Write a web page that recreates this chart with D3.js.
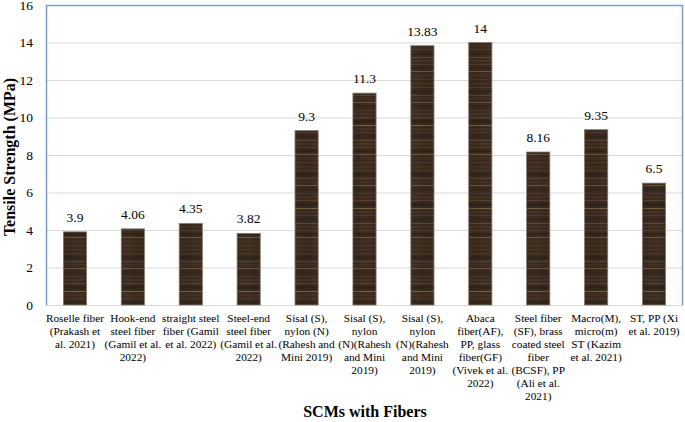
<!DOCTYPE html>
<html>
<head>
<meta charset="utf-8">
<script src="https://cdn.jsdelivr.net/npm/d3@7"></script>
<style>
  html, body { margin: 0; padding: 0; background: #fff; }
  svg { display: block; }
  text { font-family: "Liberation Serif", "Times New Roman", serif; fill: #000; }
</style>
</head>
<body>
<svg id="chart" width="685" height="422"></svg>
<script>
// ---- data ----
const categories = [
  ["Roselle fiber", "(Prakash et", "al. 2021)"],
  ["Hook-end", "steel fiber", "(Gamil et al.", "2022)"],
  ["straight steel", "fiber (Gamil", "et al. 2022)"],
  ["Steel-end", "steel fiber", "(Gamil et al.", "2022)"],
  ["Sisal (S),", "nylon (N)", "(Rahesh and", "Mini 2019)"],
  ["Sisal (S),", "nylon", "(N)(Rahesh", "and Mini", "2019)"],
  ["Sisal (S),", "nylon", "(N)(Rahesh", "and Mini", "2019)"],
  ["Abaca", "fiber(AF),", "PP, glass", "fiber(GF)", "(Vivek et al.", "2022)"],
  ["Steel fiber", "(SF), brass", "coated steel", "fiber", "(BCSF), PP", "(Ali et al.", "2021)"],
  ["Macro(M),", "micro(m)", "ST (Kazim", "et al. 2021)"],
  ["ST, PP (Xi", "et al. 2019)"]
];
const values = [3.9, 4.06, 4.35, 3.82, 9.3, 11.3, 13.83, 14, 8.16, 9.35, 6.5];
const valueLabels = ["3.9", "4.06", "4.35", "3.82", "9.3", "11.3", "13.83", "14", "8.16", "9.35", "6.5"];
const yTicks = [0, 2, 4, 6, 8, 10, 12, 14, 16];
const yTitle = "Tensile Strength (MPa)";
const xTitle = "SCMs with Fibers";

// ---- layout ----
const svg = d3.select("#chart");
const mLeft = 46, mRight = 683, mTop = 5, mBottom = 305;

const x = d3.scaleBand().domain(d3.range(values.length)).range([mLeft, mRight]).paddingInner(0.6).paddingOuter(0.3);
const y = d3.scaleLinear().domain([0, 16]).range([mBottom, mTop]);

// wood-like pattern
const defs = svg.append("defs");
const pat = defs.append("pattern").attr("id", "wood").attr("patternUnits", "userSpaceOnUse")
  .attr("width", 24).attr("height", 83);
pat.append("rect").attr("width", 24).attr("height", 83).attr("fill", "#3b2b20");
const stripes = [
  [0, 2, "#44321f"], [4, 1, "#4f3c2a"], [7, 3, "#33261b"], [12, 1, "#5a4630"],
  [15, 2, "#413023"], [19, 1, "#6a563a"], [22, 3, "#36281d"], [27, 1, "#4c3a29"],
  [30, 2, "#45342a"], [34, 1, "#57432e"], [37, 3, "#30241a"], [42, 1, "#75603f"],
  [45, 2, "#423124"], [49, 1, "#4e3b2b"], [52, 3, "#35271c"], [57, 1, "#5f4a32"],
  [60, 2, "#473526"], [64, 1, "#503d2b"], [67, 2, "#31241a"], [71, 1, "#6c573a"],
  [74, 3, "#402f22"], [79, 1, "#4d3a2a"]
];
stripes.forEach(s => pat.append("rect").attr("x", 0).attr("y", s[0]).attr("width", 24).attr("height", s[1]).attr("fill", s[2]));
pat.append("rect").attr("x", 12).attr("y", 0).attr("width", 12).attr("height", 83).attr("fill", "#000").attr("opacity", 0.05);

// gridlines
svg.append("g").selectAll("line").data(yTicks).join("line")
  .attr("x1", mLeft).attr("x2", mRight)
  .attr("y1", d => y(d) + 0.5).attr("y2", d => y(d) + 0.5)
  .attr("stroke", "#d9d9d9").attr("stroke-width", 1);

// y axis (labels only)
const yAxis = d3.axisLeft(y).tickValues(yTicks).tickSize(0).tickPadding(13).tickFormat(d3.format("d"));
const gy = svg.append("g").attr("transform", `translate(${mLeft},0)`).call(yAxis);
gy.attr("font-family", null).attr("font-size", null);
gy.select(".domain").remove();
gy.selectAll("text").attr("font-size", 13.5).attr("fill", "#000");

// bars
svg.append("g").selectAll("rect").data(values).join("rect")
  .attr("x", (d, i) => x(i)).attr("width", x.bandwidth())
  .attr("y", d => y(d)).attr("height", d => y(0) - y(d))
  .attr("fill", "url(#wood)").attr("stroke", "#86766a").attr("stroke-width", 0.8);

// value labels
svg.append("g").selectAll("text").data(values).join("text")
  .attr("x", (d, i) => x(i) + x.bandwidth() / 2).attr("y", d => y(d) - 10)
  .attr("text-anchor", "middle").attr("font-size", 13.5)
  .text((d, i) => valueLabels[i]);

// plot border (blue) left/top/right
svg.append("path")
  .attr("d", `M${mLeft + 0.5},${mBottom} V${mTop + 0.5} H${mRight - 0.5} V${mBottom}`)
  .attr("fill", "none").attr("stroke", "#7b9bd4").attr("stroke-width", 1.5);

// category labels
const xAxis = d3.axisBottom(x).tickSize(0).tickFormat("");
const gx = svg.append("g").attr("transform", `translate(0,${mBottom})`).call(xAxis);
gx.attr("font-family", null).attr("font-size", null);
gx.select(".domain").remove();
gx.selectAll(".tick").each(function(d) {
  const t = d3.select(this).append("text").attr("text-anchor", "middle").attr("font-size", 11.3)
    .attr("fill", "#000").attr("y", 17);
  categories[d].forEach((line, k) => {
    t.append("tspan").attr("x", 0).attr("dy", k === 0 ? 0 : 13).text(line);
  });
});

// axis titles
svg.append("text").attr("x", 365).attr("y", 417)
  .attr("text-anchor", "middle").attr("font-size", 16).attr("font-weight", "bold").text(xTitle);
svg.append("text").attr("transform", `translate(15,157) rotate(-90)`)
  .attr("text-anchor", "middle").attr("font-size", 16).attr("font-weight", "bold").text(yTitle);
</script>
</body>
</html>
